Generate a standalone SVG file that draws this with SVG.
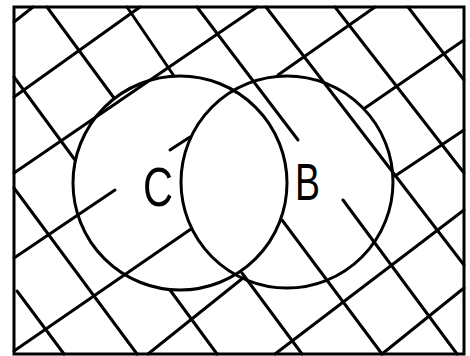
<svg xmlns="http://www.w3.org/2000/svg" width="470" height="356" viewBox="0 0 470 356">
<style>
.ln{stroke:#000;stroke-width:3;stroke-linecap:round;fill:none}
.frame{fill:none;stroke:#000;stroke-width:3}
.circ{fill:none;stroke:#000;stroke-width:3}
.lbl{font-family:"Liberation Sans",Arial,sans-serif;fill:#000}
</style>
<rect width="470" height="356" fill="#fff"/>
<g id="hatching" class="ln">
  <!-- rising lines -->
  <line x1="14" y1="22" x2="33" y2="7"/>
  <line x1="14" y1="97" x2="140" y2="7"/>
  <line x1="14" y1="173" x2="257" y2="7"/>
  <line x1="14" y1="258" x2="115" y2="190"/>
  <line x1="170" y1="150" x2="190" y2="137"/>
  <line x1="278" y1="75" x2="375" y2="7"/>
  <line x1="14" y1="351" x2="191" y2="229"/>
  <line x1="365" y1="108" x2="464" y2="40"/>
  <line x1="148" y1="354" x2="243" y2="278"/>
  <line x1="395" y1="176" x2="464" y2="130"/>
  <line x1="464" y1="210" x2="275" y2="354"/>
  <line x1="464" y1="288" x2="382" y2="354"/>
  <!-- falling lines -->
  <line x1="14" y1="77" x2="75" y2="160"/>
  <line x1="47" y1="7" x2="114" y2="98"/>
  <line x1="127" y1="7" x2="174" y2="76"/>
  <line x1="197" y1="7" x2="298" y2="140"/>
  <line x1="343" y1="200" x2="457" y2="354"/>
  <line x1="266" y1="7" x2="464" y2="265"/>
  <line x1="335" y1="7" x2="464" y2="173"/>
  <line x1="408" y1="7" x2="464" y2="80"/>
  <line x1="14" y1="188" x2="137" y2="354"/>
  <line x1="17" y1="291" x2="64" y2="354"/>
  <line x1="170" y1="290" x2="217" y2="354"/>
  <line x1="242" y1="273" x2="302" y2="354"/>
  <line x1="282" y1="220" x2="382" y2="354"/>
</g>
<rect id="frame" class="frame" x="14" y="7" width="450" height="347"/>
<g id="circle-C">
  <circle class="circ" cx="180" cy="183" r="107"/>
  <text class="lbl" x="143" y="206" font-size="56" textLength="30" lengthAdjust="spacingAndGlyphs">C</text>
</g>
<g id="circle-B">
  <circle class="circ" cx="287" cy="182" r="106"/>
  <text class="lbl" x="295" y="200" font-size="52" textLength="25" lengthAdjust="spacingAndGlyphs">B</text>
</g>
</svg>
